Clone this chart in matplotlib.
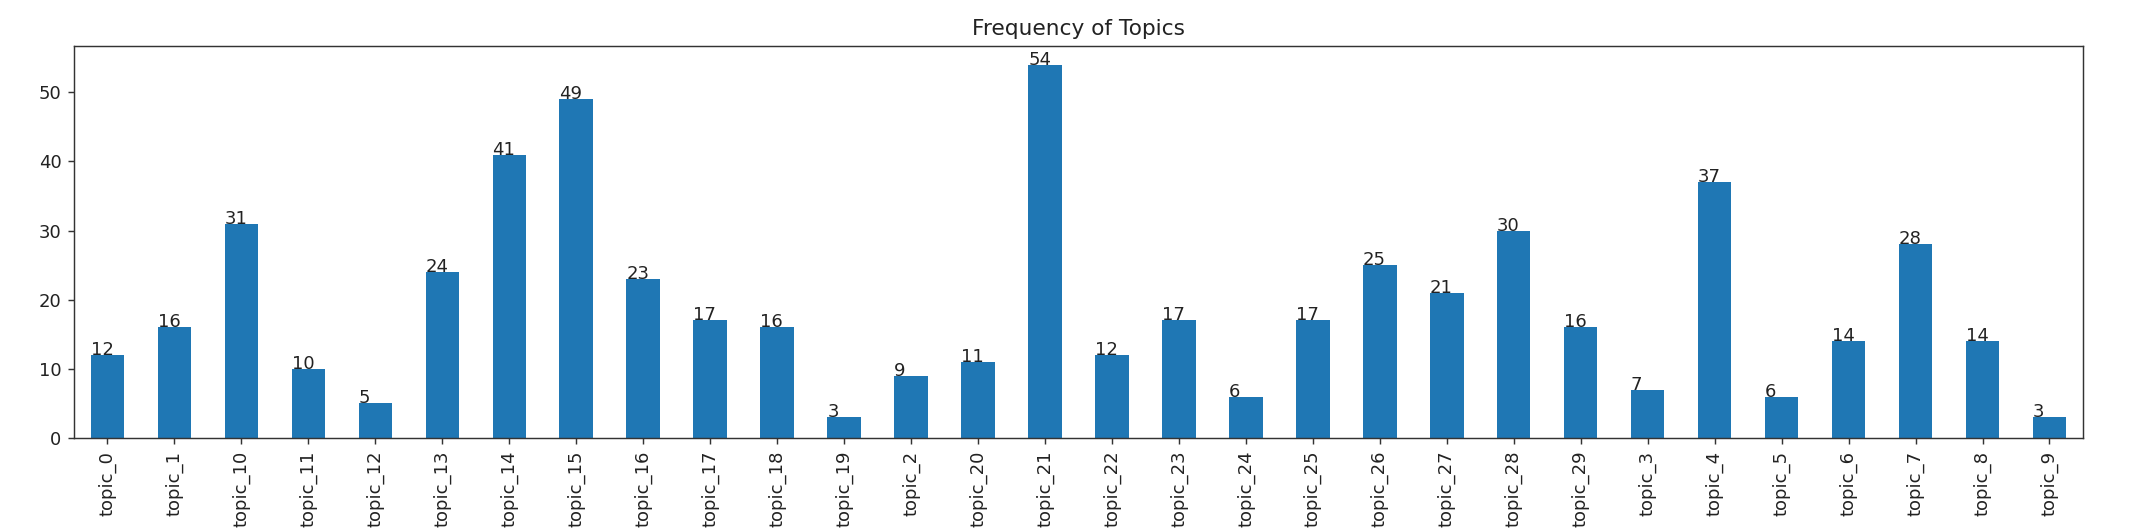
import matplotlib
matplotlib.use("Agg")
import matplotlib.pyplot as plt
import pandas as pd

topics = ["topic_0", "topic_1", "topic_10", "topic_11", "topic_12", "topic_13", "topic_14",
          "topic_15", "topic_16", "topic_17", "topic_18", "topic_19", "topic_2", "topic_20",
          "topic_21", "topic_22", "topic_23", "topic_24", "topic_25", "topic_26", "topic_27",
          "topic_28", "topic_29", "topic_3", "topic_4", "topic_5", "topic_6", "topic_7",
          "topic_8", "topic_9"]
counts = [12, 16, 31, 10, 5, 24, 41, 49, 23, 17, 16, 3, 9, 11, 54, 12, 17, 6, 17, 25, 21,
          30, 16, 7, 37, 6, 14, 28, 14, 3]

DPI = 130
fig = plt.figure(figsize=(2132 / DPI, 532 / DPI), dpi=DPI)
ax = fig.add_axes([0.0347, 0.1767, 0.9423, 0.7368])
s = pd.Series(counts, index=topics)
s.plot(kind="bar", ax=ax, color="#1f77b4")
for p in ax.patches:
    ax.annotate(str(int(p.get_height())), (p.get_x(), p.get_height()), fontsize=10,
                color="#222222")
ax.set_title("Frequency of Topics", fontsize=12, color="#222222")
ax.tick_params(colors="#333333", labelcolor="#222222")
for sp in ax.spines.values():
    sp.set_color("#333333")
ax.set_ylim(0, 56.7)
fig.savefig("out.png", dpi=DPI)
